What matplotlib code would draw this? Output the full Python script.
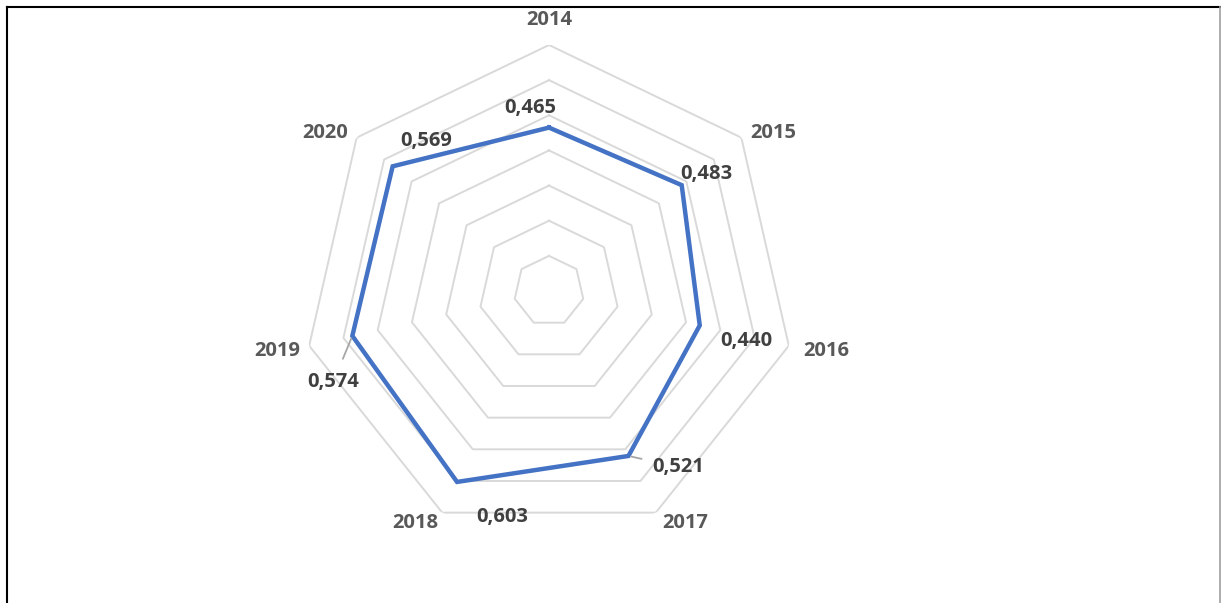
import numpy as np
import matplotlib
matplotlib.use("Agg")
import matplotlib.pyplot as plt
from matplotlib.lines import Line2D

# data
years = ['2014', '2015', '2016', '2017', '2018', '2019', '2020']
values = [0.465, 0.483, 0.440, 0.521, 0.603, 0.574, 0.569]
rings = [0.1, 0.2, 0.3, 0.4, 0.5, 0.6, 0.7]
value_labels = ['0,465', '0,483', '0,440', '0,521', '0,603', '0,574', '0,569']

# label offsets (pixels) relative to the outer vertex / data point
cat_offsets = [(0, 25), (32, 5), (37, -5), (29, -10), (-27, -10), (-32, -5), (-31, 5)]
val_offsets = [(-19, 20), (25, 11), (47, -16), (50, -11), (45, -35), (-19, -46), (34, 25)]
leader_shrink = [None, None, None, 6, None, 8, None]

plt.rcParams['font.family'] = ['Open Sans', 'DejaVu Sans']

W, H = 1221, 603
fig = plt.figure(figsize=(W / 100, H / 100), dpi=100)
fig.patch.set_facecolor('white')

cx, cy, R = 549, 291, 246
ax = fig.add_axes([(cx - R) / W, (H - cy - R) / H, 2 * R / W, 2 * R / H],
                  projection='polar')
ax.set_theta_zero_location('N')
ax.set_theta_direction(-1)
ax.set_ylim(0, 0.7)
ax.axis('off')

n = len(years)
angles = np.arange(n) * 2 * np.pi / n
closed = np.append(angles, angles[0])

for r in rings:
    ax.plot(closed, [r] * (n + 1), color='#D9D9D9', lw=1.4, zorder=1)

ax.plot(closed, values + values[:1], color='#4472C4', lw=3.2, zorder=3,
        solid_joinstyle='miter')

for i, yr in enumerate(years):
    ax.annotate(yr, xy=(angles[i], 0.7), xytext=cat_offsets[i],
                textcoords='offset pixels', ha='center', va='center',
                fontsize=14.5, fontweight='bold', color='#595959',
                annotation_clip=False)

for i, lab in enumerate(value_labels):
    props = None
    if leader_shrink[i]:
        props = dict(arrowstyle='-', color='#A6A6A6', lw=1.3,
                     shrinkA=leader_shrink[i], shrinkB=2)
    ax.annotate(lab, xy=(angles[i], values[i]), xytext=val_offsets[i],
                textcoords='offset pixels', ha='center', va='center',
                fontsize=14.5, fontweight='bold', color='#404040',
                arrowprops=props, annotation_clip=False, zorder=4)

# outer frame (top, left, right)
fig.add_artist(Line2D([7 / W, 7 / W], [0, 1 - 7 / H], color='black', lw=1.5))
fig.add_artist(Line2D([7 / W, 1220 / W], [1 - 7 / H, 1 - 7 / H], color='black', lw=1.5))
fig.add_artist(Line2D([1219.5 / W, 1219.5 / W], [0, 1 - 7 / H], color='#A0A0A0', lw=1.2))

fig.savefig('out.png', dpi=100)
